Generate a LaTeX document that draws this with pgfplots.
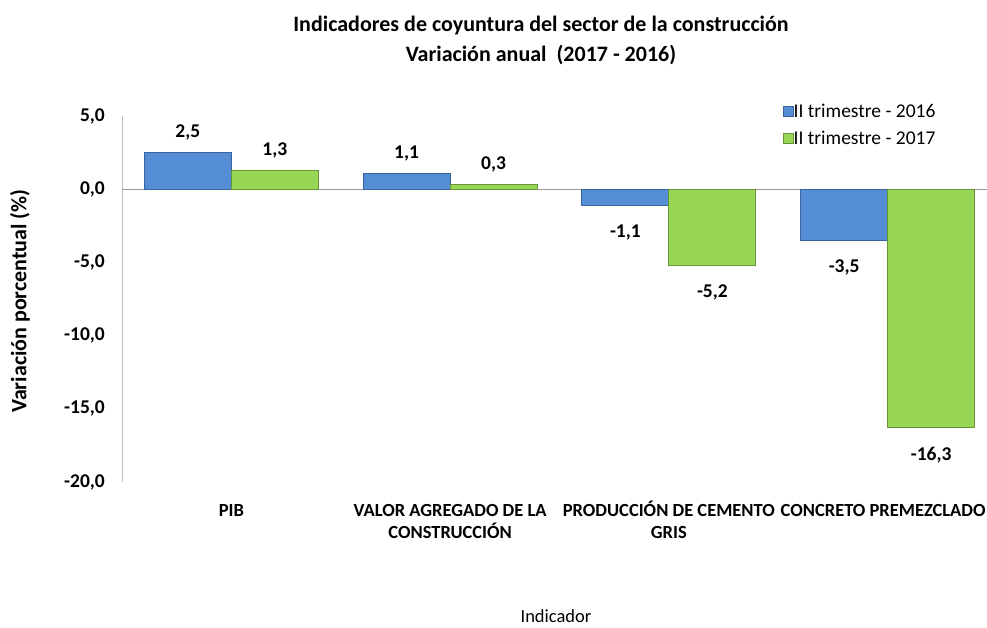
\documentclass[border=0pt]{standalone}
\usepackage{fontspec}
\setmainfont{Carlito}
\usepackage{pgfplots}
\pgfplotsset{compat=1.18}
\definecolor{bblue}{RGB}{84,141,212}
\definecolor{bblueD}{RGB}{58,100,160}
\definecolor{bgreen}{RGB}{152,214,86}
\definecolor{bgreenD}{RGB}{104,148,52}
\begin{document}
\begin{tikzpicture}[x=1pt,y=1pt]
\useasboundingbox (0,0) rectangle (987,627);
\node[font=\fontsize{22}{30}\selectfont\bfseries, align=center] at (541,587) {Indicadores de coyuntura del sector de la construcción\\Variación anual \ (2017 - 2016)};
\node[font=\fontsize{22}{24}\selectfont\bfseries, rotate=90] at (20,326) {Variación porcentual (\%)};
\node[font=\fontsize{18.5}{20}\selectfont, anchor=base, inner sep=0pt] at (556,5) {Indicador};
\begin{axis}[
  at={(122pt,145pt)}, anchor=south west,
  scale only axis, width=875pt, height=366pt,
  xmin=-0.5, xmax=3.5, ymin=-20, ymax=5,
  clip=false,
  ybar=0pt, bar width=87pt,
  axis lines*=left,
  x axis line style={draw=none},
  y axis line style={draw=black!25, line width=1pt},
  major tick length=0pt,
  ytick={-20,-15,-10,-5,0,5},
  yticklabels={{-20,0},{-15,0},{-10,0},{-5,0},{0,0},{5,0}},
  yticklabel style={font=\fontsize{19.5}{20}\selectfont\bfseries, inner sep=0pt, xshift=-17pt},
  xtick={0,1,2,3},
  xticklabels={{\vphantom{Ó}PIB}, {\vphantom{Ó}VALOR AGREGADO DE LA\\CONSTRUCCIÓN}, {PRODUCCIÓN DE CEMENTO\\GRIS}, {\vphantom{Ó}\hspace*{-9pt}CONCRETO PREMEZCLADO}},
  xticklabel style={font=\fontsize{18.5}{22}\selectfont\bfseries, align=center, inner sep=0pt, yshift=-19pt},
  point meta=y,
  nodes near coords={\pgfmathprintnumber[fixed,fixed zerofill,precision=1,use comma,assume math mode=true]{\pgfplotspointmeta}},
  nodes near coords style={font=\fontsize{19.5}{20}\selectfont\bfseries, inner xsep=0pt, inner ysep=15.5pt, yshift=-3.5pt},
  legend style={at={(0.755,1.034)}, anchor=north west, draw=none, fill=none,
    font=\fontsize{19.5}{20}\selectfont, row sep=12pt, inner sep=0pt,
    nodes={inner sep=0pt, xshift=4pt}},
  legend cell align=left,
  legend image code/.code={\draw[#1] (0pt,-5pt) rectangle (10pt,5pt);},
]
\draw[black!40, line width=1pt] (axis cs:-0.5,0) -- (axis cs:3.5,0);
\addplot[fill=bblue, draw=bblueD, line width=0.8pt] coordinates {(0,2.5) (1,1.1) (2,-1.1) (3,-3.5)};
\addplot[fill=bgreen, draw=bgreenD, line width=0.8pt] coordinates {(0,1.3) (1,0.3) (2,-5.2) (3,-16.3)};
\legend{II trimestre - 2016, II trimestre - 2017}
\end{axis}
\end{tikzpicture}
\end{document}
